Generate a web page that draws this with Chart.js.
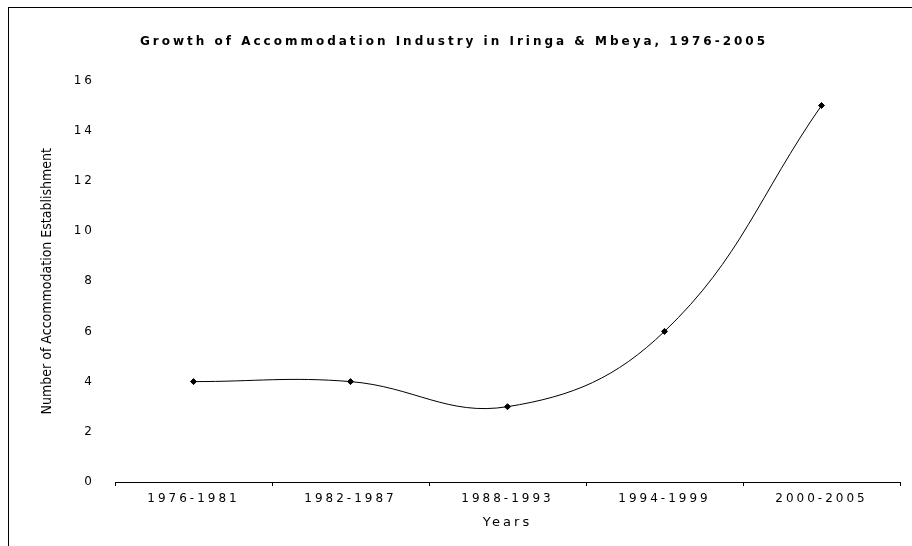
<html>
  <head>
    <title>Growth of Accommodation Industry</title>
    <style>
      body {
        margin: 0;
        background: #fff;
      }
      #wrap {
        position: relative;
        width: 912px;
        height: 546px;
      }
      #frame {
        position: absolute;
        left: 8px;
        top: 7px;
        right: 0;
        bottom: 0;
        border-top: 1px solid #000;
        border-left: 1px solid #000;
        pointer-events: none;
      }
      canvas {
        position: absolute;
        left: 0;
        top: 0;
      }
    </style>
  </head>
  <body>
    <div id="wrap">
      <canvas id="myChart" width="912" height="546"></canvas>
      <div id="frame"></div>
    </div>
    <script src="https://cdn.jsdelivr.net/npm/chart.js@4/dist/chart.umd.min.js"></script>
    <script>
      const chartTitle = 'Growth of Accommodation Industry in Iringa & Mbeya, 1976-2005';
      const periods = ['1976-1981', '1982-1987', '1988-1993', '1994-1999', '2000-2005'];
      const establishments = [4, 4, 3, 6, 15];
      const yTicks = [0, 2, 4, 6, 8, 10, 12, 14, 16];

      // the scanned chart uses wide letter spacing everywhere except the narrow y title
      const spacing = {
        id: 'spacing',
        beforeDraw(chart) { chart.ctx.letterSpacing = '3px'; },
        afterDatasetsDraw(chart) { chart.ctx.letterSpacing = '0px'; }
      };

      const wideFont = "'DejaVu Sans', Verdana, sans-serif";

      new Chart(document.getElementById('myChart'), {
        type: 'line',
        data: {
          labels: periods,
          datasets: [{
            data: establishments,
            borderColor: '#000',
            borderWidth: 1,
            tension: 0.4,
            pointStyle: 'rectRot',
            pointRadius: 3,
            pointBackgroundColor: '#000',
            pointBorderColor: '#000'
          }]
        },
        plugins: [spacing],
        options: {
          responsive: false,
          animation: false,
          layout: { padding: { top: 35, left: 8, right: 12, bottom: 0 } },
          plugins: {
            legend: { display: false },
            tooltip: { enabled: false },
            title: {
              display: true,
              text: chartTitle,
              color: '#000',
              font: { family: wideFont, size: 12, weight: 'bold' },
              padding: { top: 0, bottom: 31 }
            }
          },
          scales: {
            x: {
              offset: true,
              grid: {
                offset: true,
                drawOnChartArea: false,
                tickLength: 4,
                color: '#000'
              },
              border: { display: true, color: '#000', width: 1 },
              ticks: {
                color: '#000',
                padding: 6,
                font: { family: wideFont, size: 12 }
              },
              title: {
                display: true,
                text: 'Years',
                color: '#000',
                font: { family: wideFont, size: 13 },
                padding: { top: 4, bottom: 16 }
              },
              afterFit(scale) { scale.height = 64; }
            },
            y: {
              min: 0,
              max: 16,
              grid: { display: false, drawTicks: false, z: 1 },
              border: { display: false },
              afterBuildTicks(scale) { scale.ticks = yTicks.map(v => ({ value: v })); },
              ticks: {
                color: '#000',
                padding: 20,
                font: { family: wideFont, size: 12 }
              },
              title: {
                display: true,
                text: 'Number of Accommodation Establishment',
                color: '#000',
                font: { family: "'Liberation Sans Narrow', 'DejaVu Sans Condensed', 'Arial Narrow', sans-serif", size: 14 },
                padding: { top: 31, bottom: 0 }
              },
              afterFit(scale) { scale.width = 107; }
            }
          }
        }
      });
    </script>
  </body>
</html>
